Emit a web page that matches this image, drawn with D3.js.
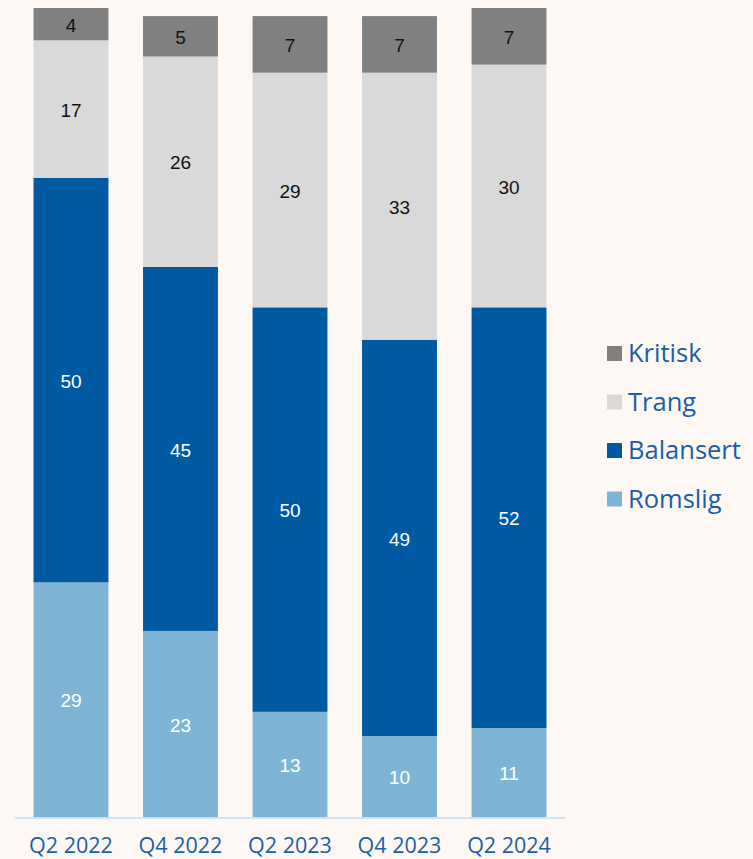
<!DOCTYPE html>
<html>
<head>
<meta charset="utf-8">
<script src="https://cdn.jsdelivr.net/npm/d3@7"></script>
<style>
  body { margin: 0; background: #fdf8f4; }
  svg { display: block; }
</style>
</head>
<body>
<script>
const Width = 753;
const Height = 859;

// data
const categories = ["Q2 2022", "Q4 2022", "Q2 2023", "Q4 2023", "Q2 2024"];
const seriesNames = ["Romslig", "Balansert", "Trang", "Kritisk"];
const romslig = [29, 23, 13, 10, 11];
const balansert = [50, 45, 50, 49, 52];
const trang = [17, 26, 29, 33, 30];
const kritisk = [4, 5, 7, 7, 7];

const colors = {
  Romslig: "#7fb4d4",
  Balansert: "#005aa3",
  Trang: "#d9d9d9",
  Kritisk: "#808080"
};
const textColors = {
  Romslig: "#ffffff",
  Balansert: "#ffffff",
  Trang: "#111111",
  Kritisk: "#111111"
};

const rows = categories.map(function (c, i) {
  return { cat: c, Romslig: romslig[i], Balansert: balansert[i], Trang: trang[i], Kritisk: kritisk[i] };
});

const stack = d3.stack().keys(seriesNames)(rows);

const svg = d3.select("body")
  .append("svg")
  .attr("width", Width)
  .attr("height", Height);

const x = d3.scaleBand()
  .domain(categories)
  .range([16, 564])
  .paddingInner(0.316)
  .paddingOuter(0.16);

const y = d3.scaleLinear()
  .domain([0, 100])
  .range([817, 8]);

// bars
const layers = svg.selectAll("g.layer")
  .data(stack)
  .enter()
  .append("g")
  .attr("class", "layer")
  .attr("fill", function (d) { return colors[d.key]; });

layers.selectAll("rect")
  .data(function (d) { return d; })
  .enter()
  .append("rect")
  .attr("x", function (d) { return x(d.data.cat); })
  .attr("y", function (d) { return y(d[1]); })
  .attr("width", x.bandwidth())
  .attr("height", function (d) { return y(d[0]) - y(d[1]); });

// value labels
stack.forEach(function (s) {
  svg.append("g")
    .selectAll("text")
    .data(s)
    .enter()
    .append("text")
    .attr("x", function (d) { return x(d.data.cat) + x.bandwidth() / 2; })
    .attr("y", function (d) { return (y(d[0]) + y(d[1])) / 2 + 1; })
    .attr("dy", "0.35em")
    .attr("text-anchor", "middle")
    .attr("font-family", "'Liberation Sans', Arial, sans-serif")
    .attr("font-size", 19)
    .attr("fill", textColors[s.key])
    .text(function (d) { return d[1] - d[0]; });
});

// x axis
const xAxis = svg.append("g")
  .attr("transform", "translate(0,818)")
  .call(d3.axisBottom(x).tickSize(0).tickPadding(14));
xAxis.select(".domain")
  .attr("d", "M15,0H565")
  .attr("stroke", "#cde4f7")
  .attr("stroke-width", 2);
xAxis.selectAll("text")
  .attr("font-family", "'Open Sans', sans-serif")
  .attr("font-size", 21.5)
  .attr("fill", "#1a5ea8")
  .attr("y", 35)
  .attr("dy", 0);

// legend
const legendItems = seriesNames.slice().reverse();
const legend = svg.append("g")
  .selectAll("g")
  .data(legendItems)
  .enter()
  .append("g")
  .attr("transform", function (d, i) { return "translate(607," + (353 + i * 48.5) + ")"; });

legend.append("rect")
  .attr("x", 0)
  .attr("y", -7)
  .attr("width", 15)
  .attr("height", 15)
  .attr("fill", function (d) { return colors[d]; });

legend.append("text")
  .attr("x", 21)
  .attr("y", 0)
  .attr("dy", "0.36em")
  .attr("font-family", "'Open Sans', sans-serif")
  .attr("font-size", 25.5)
  .attr("fill", "#1a5ea8")
  .text(function (d) { return d; });
</script>
</body>
</html>
